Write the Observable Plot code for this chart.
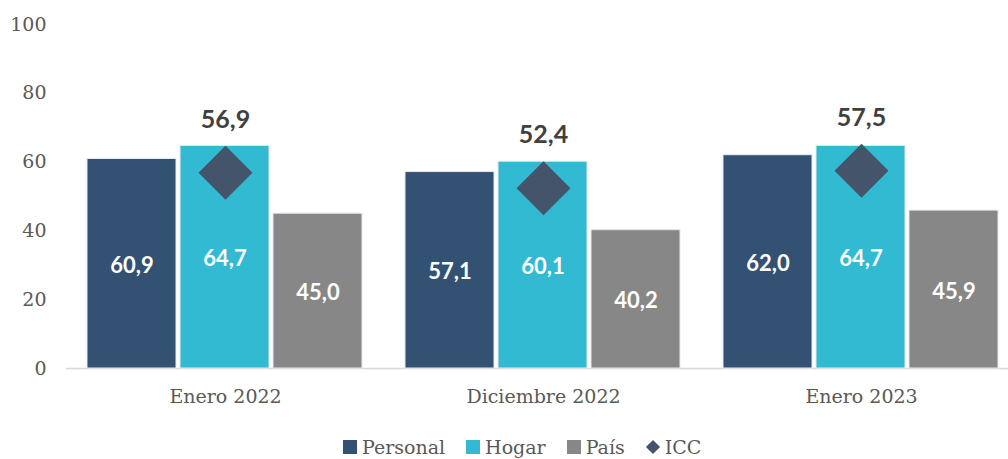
<!DOCTYPE html>
<html><head><meta charset="utf-8">
<script src="https://cdn.jsdelivr.net/npm/d3@7"></script>
<script src="https://cdn.jsdelivr.net/npm/@observablehq/plot@0.6"></script>
<style>
body{margin:0;background:#fff;}
#legend{display:flex;align-items:center;height:24px;padding-top:5px;padding-left:343px;font-family:"DejaVu Serif";font-size:19px;color:#595959;}
#legend .item{display:flex;align-items:center;margin-right:21px;}
#legend .sw{width:14px;height:14px;margin-right:5px;}
#legend .dm{width:10px;height:10px;transform:rotate(45deg);margin:0 7px 0 2px;}
</style></head><body><div id="chart"></div><div id="legend"></div>
<script>
const periods = ["Enero 2022","Diciembre 2022","Enero 2023"];
const seriesNames = ["Personal","Hogar","País"];
const personal = [60.9,57.1,62.0];
const hogar = [64.7,60.1,64.7];
const pais = [45.0,40.2,45.9];
const icc = [56.9,52.4,57.5];
const yTicks = [0,20,40,60,80,100];
const colors = ["#335273","#33BAD3","#878787"];
const iccColor = "#44546A";

const seriesValues = [personal, hogar, pais];
const rows = [];
periods.forEach((p,i)=>seriesNames.forEach((s,j)=>rows.push({period:p, series:s, value:seriesValues[j][i]})));
const iccRows = periods.map((p,i)=>({period:p, value:icc[i]}));
const fmt = v => d3.format(".1f")(v).replace(".", ",");

const plot = Plot.plot({
  width:1008, height:430, marginLeft:66, marginRight:0, marginTop:24, marginBottom:62,
  fx:{domain:periods, range:[66,1020], padding:0, label:null, axis:null},
  x:{domain:seriesNames, paddingInner:0.043, paddingOuter:0.231, axis:null},
  y:{domain:[0,100], axis:null},
  color:{domain:seriesNames, range:colors},
  marks:[
    Plot.axisY(yTicks,{tickSize:0, tickPadding:20, fontSize:19, fontFamily:"DejaVu Serif", fill:"#595959", label:null}),
    Plot.axisFx({anchor:"bottom", tickSize:0, tickPadding:21, fontSize:19, fontFamily:"DejaVu Serif", fill:"#595959", label:null}),
    Plot.ruleY([0],{stroke:"#d9d9d9", strokeWidth:1.5}),
    Plot.barY(rows,{fx:"period", x:"series", y:"value", fill:"series", stroke:"#e4e8ee", strokeWidth:1}),
    Plot.text(rows,{fx:"period", x:"series", y:d=>d.value/2, dy:2, text:d=>fmt(d.value), fill:"white", fontFamily:"Lato", fontWeight:"bold", fontSize:22}),
    Plot.dot(iccRows,{fx:"period", y:"value", symbol:"diamond2", r:24.3, fill:iccColor}),
    Plot.text(iccRows,{fx:"period", y:"value", dy:-53, text:d=>fmt(d.value), fill:"#404040", fontFamily:"Lato", fontWeight:"bold", fontSize:25})
  ]
});
document.getElementById("chart").appendChild(plot);

const legend = document.getElementById("legend");
seriesNames.forEach((s,i)=>{
  const it = document.createElement("div"); it.className="item";
  it.innerHTML = `<div class="sw" style="background:${colors[i]}"></div><span>${s}</span>`;
  legend.appendChild(it);
});
const it = document.createElement("div"); it.className="item";
it.innerHTML = `<div class="dm" style="background:${iccColor}"></div><span>ICC</span>`;
legend.appendChild(it);
</script></body></html>
